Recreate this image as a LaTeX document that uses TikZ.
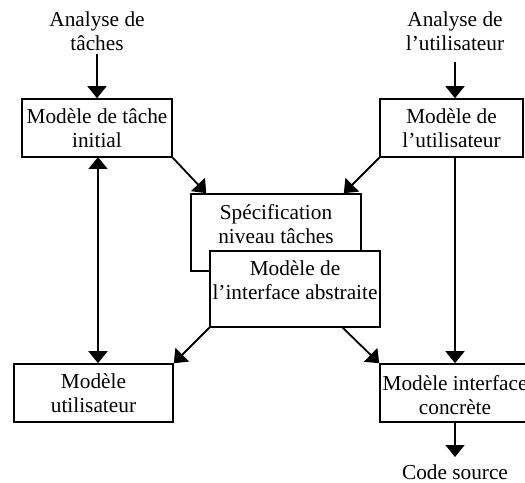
\documentclass[tikz,border=0pt]{standalone}
\usepackage{fontspec}
\setmainfont{Liberation Serif}
\usetikzlibrary{arrows.meta,calc}
\begin{document}
\begin{tikzpicture}[x=1bp,y=-1bp,
  every node/.style={font=\fontsize{21.3bp}{24.5bp}\selectfont, align=center, inner sep=0pt},
  box/.style={draw, line width=1.6bp, fill=white},
  arr/.style={line width=1.8bp, -{Triangle[length=12bp,width=19bp]}},
  darr/.style={line width=1.8bp, {Triangle[length=12bp,width=19bp]}-{Triangle[length=12bp,width=19bp]}}]
\useasboundingbox (0,0) rectangle (525,483);
\clip (0,0) rectangle (525,483);
% top texts
\node (at) at (97,31) {Analyse de\\tâches};
\node (au) at (455,31) {Analyse de\\l’utilisateur};
% boxes
\node[box, minimum width=150bp, minimum height=58bp] (tache) at (97,128) {Modèle de tâche\\initial};
\node[box, minimum width=143bp, minimum height=58bp] (user) at (451.5,128) {Modèle de\\l’utilisateur};
\node[box, minimum width=170bp, minimum height=77bp] (spec) at (276,232.5) {};
\node (spect) at (276,224) {Spécification\\niveau tâches};
\node[box, minimum width=170bp, minimum height=76bp] (abs) at (295,289) {};
\node (abst) at (295,280) {Modèle de\\l’interface abstraite};
\node[box, minimum width=159bp, minimum height=58bp] (mu) at (93.5,393) {Modèle\\utilisateur};
\node[box, minimum width=150bp, minimum height=58bp] (conc) at (455,393) {};
\node (conct) at (455,395) {Modèle interface\\concrète};
\node (code) at (455,472) {Code source};
% arrows
\draw[arr] (at.south -| tache.north) ++(0,3) coordinate (a1) -- (a1 |- tache.north);
\draw[arr] (455,62) coordinate (a2) -- (a2 |- user.north);
\draw[darr] (98,157) coordinate (d1) -- (d1 |- mu.north);
\draw[arr] (tache.south east) -- ($(spec.north west)+(16,0)$);
\draw[arr] (user.south west) -- ($(spec.north east)+(-18,0)$);
\draw[arr] (455,157) coordinate (r1) -- (r1 |- conc.north);
\draw[arr] (abs.south west) -- (mu.north east);
\draw[arr] ($(abs.south east)+(-38,0)$) -- (conc.north west);
\draw[arr] (455,422) coordinate (c1) -- (455,457);
\end{tikzpicture}
\end{document}
